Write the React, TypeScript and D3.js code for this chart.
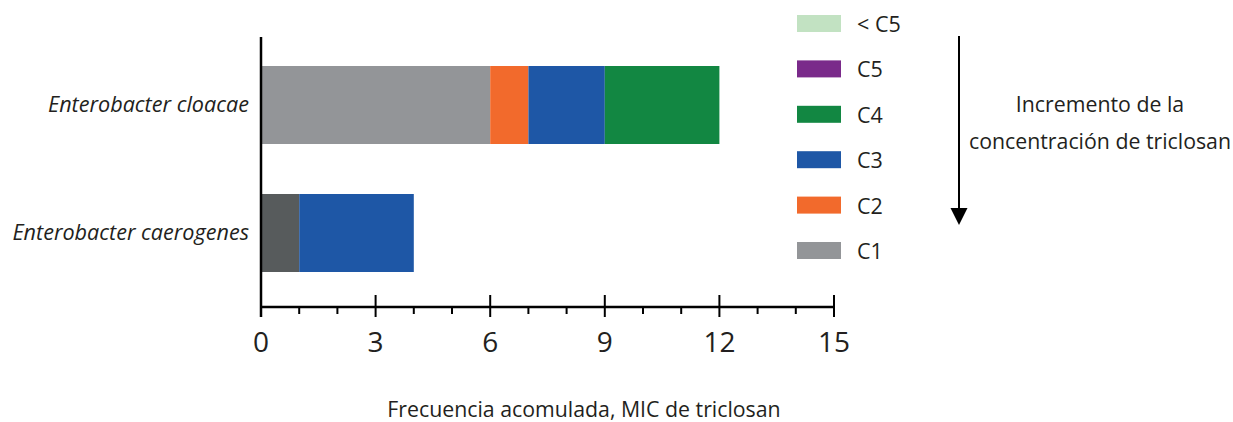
import React from "react";
import * as d3 from "d3";

const species = ["Enterobacter cloacae", "Enterobacter caerogenes"];
const stackKeys = ["C1o", "C1", "C2", "C3", "C4", "C5", "<C5"];
const valC1o = [0, 1];
const valC1 = [6, 0];
const valC2 = [1, 0];
const valC3 = [2, 3];
const valC4 = [3, 0];
const valC5 = [0, 0];
const valLtC5 = [0, 0];
const legendLabels = ["< C5", "C5", "C4", "C3", "C2", "C1"];
const legendKeys = ["<C5", "C5", "C4", "C3", "C2", "C1"];
const majorTicks = [0, 3, 6, 9, 12, 15];
const minorTicks = [1, 2, 4, 5, 7, 8, 10, 11, 13, 14];
const xTitle = "Frecuencia acomulada, MIC de triclosan";
const noteLines = ["Incremento de la", "concentración de triclosan"];

const colors: Record<string, string> = {
  C1o: "#575b5c",
  C1: "#939598",
  C2: "#f26a2c",
  C3: "#1e57a6",
  C4: "#128742",
  C5: "#7a2a8a",
  "<C5": "#c2e2c2",
};

const FONT = "'Open Sans', sans-serif";
const TXT = "#231f20";

export default function App() {
  const rows = species.map((s, i) => ({
    species: s,
    C1o: valC1o[i],
    C1: valC1[i],
    C2: valC2[i],
    C3: valC3[i],
    C4: valC4[i],
    C5: valC5[i],
    "<C5": valLtC5[i],
  }));
  const stacked = d3.stack<any>().keys(stackKeys)(rows);

  const x = d3.scaleLinear().domain([0, 15]).range([261, 834]);
  const y = d3
    .scaleBand()
    .domain(species)
    .range([66, 272])
    .paddingInner(50 / 128)
    .paddingOuter(0);
  const ly = d3.scalePoint().domain(legendKeys).range([15, 242]);

  const axisY = 307;

  return (
    <svg width={1233} height={422} style={{ display: "block", position: "absolute", left: 0, top: 0 }}>
      <rect width={1233} height={422} fill="#fff" />
      {stacked.map((layer) =>
        layer.map((d, i) =>
          d[1] - d[0] > 0 ? (
            <rect
              key={layer.key + i}
              x={x(d[0])}
              y={y(species[i])}
              width={x(d[1]) - x(d[0])}
              height={y.bandwidth()}
              fill={colors[layer.key]}
            />
          ) : null
        )
      )}
      {/* y axis */}
      <line x1={261} x2={261} y1={37} y2={317} stroke="#000" strokeWidth={2.5} />
      {/* x axis */}
      <line x1={261} x2={835} y1={axisY} y2={axisY} stroke="#000" strokeWidth={2.5} />
      {majorTicks.map((t) => (
        <g key={"M" + t}>
          <line x1={x(t)} x2={x(t)} y1={295} y2={317} stroke="#000" strokeWidth={2} />
          <text
            x={x(t)}
            y={352}
            textAnchor="middle"
            fontFamily={FONT}
            fontSize={28}
            fill={TXT}
          >
            {t}
          </text>
        </g>
      ))}
      {minorTicks.map((t) => (
        <line key={"m" + t} x1={x(t)} x2={x(t)} y1={axisY} y2={314} stroke="#000" strokeWidth={2} />
      ))}
      {species.map((s) => (
        <text
          key={s}
          x={249}
          y={(y(s) as number) + y.bandwidth() / 2 + 7}
          textAnchor="end"
          fontFamily={FONT}
          fontStyle="italic"
          fontSize={21.6}
          fill={TXT}
        >
          {s}
        </text>
      ))}
      <text x={584} y={417} textAnchor="middle" fontFamily={FONT} fontSize={21.3} fill={TXT}>
        {xTitle}
      </text>
      {/* legend */}
      {legendKeys.map((k, i) => (
        <g key={k}>
          <rect x={797} y={ly(k)} width={44} height={17} fill={colors[k]} />
          <text x={857} y={(ly(k) as number) + 17} fontFamily={FONT} fontSize={21.5} fill={TXT}>
            {legendLabels[i]}
          </text>
        </g>
      ))}
      {/* arrow */}
      <line x1={959} x2={959} y1={36} y2={212} stroke="#000" strokeWidth={2} />
      <polygon points="950.5,208 967.5,208 959,225" fill="#000" />
      {noteLines.map((l, i) => (
        <text
          key={l}
          x={1100}
          y={112 + i * 37}
          textAnchor="middle"
          fontFamily={FONT}
          fontSize={21.3}
          fill={TXT}
        >
          {l}
        </text>
      ))}
    </svg>
  );
}
